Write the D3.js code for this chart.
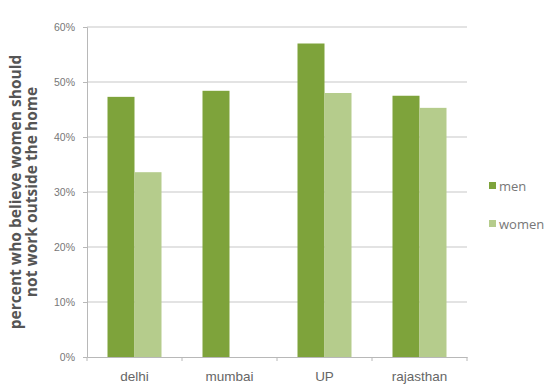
<!DOCTYPE html>
<html>
<head>
<meta charset="utf-8">
<script src="https://cdn.jsdelivr.net/npm/d3@7"></script>
<style>
  body { margin: 0; background: #fff; }
  svg { font-family: "Open Sans", "DejaVu Sans", sans-serif; }
</style>
</head>
<body>
<div id="chart"></div>
<script>
var cities = ["delhi", "mumbai", "UP", "rajasthan"],
    men = [0.473, 0.484, 0.57, 0.475],
    women = [0.336, null, 0.48, 0.453],
    seriesNames = ["men", "women"],
    seriesColors = ["#7ea33b", "#b5cc8c"],
    yTicks = [0, 0.1, 0.2, 0.3, 0.4, 0.5, 0.6],
    yLabelLines = ["percent who believe women should", "not work outside the home"];

var width = 549, height = 390,
    margin = {top: 27, right: 82, bottom: 33, left: 87};

var svg = d3.select("#chart").append("svg")
  .attr("width", width)
  .attr("height", height);

var x0 = d3.scaleBand()
  .domain(cities)
  .range([margin.left, width - margin.right]);

var step = x0.step();

var xs = d3.scaleBand()
  .domain(seriesNames)
  .range([0, 54]);

var y = d3.scaleLinear()
  .domain([0, 0.6])
  .range([height - margin.bottom, margin.top]);

// gridlines
svg.append("g")
  .selectAll("line")
  .data(yTicks.filter(function(d){ return d > 0; }))
  .enter().append("line")
  .attr("x1", margin.left)
  .attr("x2", width - margin.right)
  .attr("y1", function(d){ return y(d); })
  .attr("y2", function(d){ return y(d); })
  .style("stroke", "#c8c8c8")
  .style("stroke-width", 1.2);

// bars
var data = [];
cities.forEach(function(c, i){
  if (men[i] != null) data.push({city: c, s: "men", v: men[i]});
  if (women[i] != null) data.push({city: c, s: "women", v: women[i]});
});

svg.append("g")
  .selectAll("rect")
  .data(data)
  .enter().append("rect")
  .attr("x", function(d){ return x0(d.city) + (x0.bandwidth() - 54) / 2 + xs(d.s); })
  .attr("y", function(d){ return y(d.v); })
  .attr("width", xs.bandwidth())
  .attr("height", function(d){ return y(0) - y(d.v); })
  .style("fill", function(d){ return seriesColors[seriesNames.indexOf(d.s)]; });

// y axis
var yAxis = d3.axisLeft(y)
  .tickValues(yTicks)
  .tickFormat(d3.format(".0%"))
  .tickSize(4)
  .tickPadding(8);

var gy = svg.append("g")
  .attr("transform", "translate(" + margin.left + ",0)")
  .call(yAxis);
gy.select(".domain").style("stroke", "#b8b8b8");
gy.selectAll(".tick line").style("stroke", "#b8b8b8");
gy.selectAll("text").style("fill", "#777").style("font-size", "10.5px");

// x axis
var xAxis = d3.axisBottom(x0)
  .tickSize(0)
  .tickPadding(14);

var gx = svg.append("g")
  .attr("transform", "translate(0," + y(0) + ")")
  .call(xAxis);
gx.select(".domain").style("stroke", "#b8b8b8").style("stroke-width", 1.2);
gx.selectAll("text").style("fill", "#666").style("font-size", "13.5px");

// category separator ticks
gx.selectAll(".sep")
  .data(cities.concat(["end"]))
  .enter().append("line")
  .attr("class", "sep")
  .attr("x1", function(d, i){ return margin.left + i * step; })
  .attr("x2", function(d, i){ return margin.left + i * step; })
  .attr("y1", 0)
  .attr("y2", 4)
  .style("stroke", "#b8b8b8");

// y label
var yl = svg.append("text")
  .attr("transform", "translate(21," + ((margin.top + y(0)) / 2) + ") rotate(-90)")
  .style("text-anchor", "middle")
  .style("font-size", "15.5px")
  .style("font-weight", "bold")
  .style("fill", "#555");
yLabelLines.forEach(function(t, i){
  yl.append("tspan")
    .attr("x", 0)
    .attr("dy", i === 0 ? 0 : 16)
    .text(t);
});

// legend
var legend = svg.append("g")
  .selectAll("g")
  .data(seriesNames)
  .enter().append("g")
  .attr("transform", function(d, i){ return "translate(489," + (186 + i * 38) + ")"; });

legend.append("rect")
  .attr("x", 0)
  .attr("y", -4)
  .attr("width", 7)
  .attr("height", 7)
  .style("fill", function(d, i){ return seriesColors[i]; });

legend.append("text")
  .attr("x", 10)
  .attr("dy", "0.35em")
  .style("font-size", "13px")
  .style("fill", "#777")
  .text(function(d){ return d; });
</script>
</body>
</html>
